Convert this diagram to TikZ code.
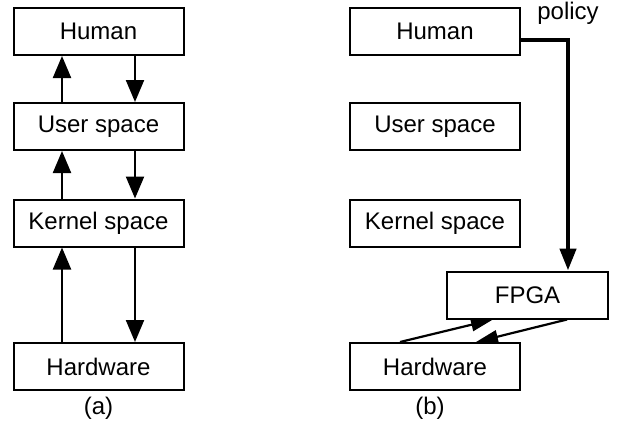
\documentclass[tikz,border=0pt]{standalone}
\usepackage{fontspec}
\setmainfont{Liberation Sans}
\usetikzlibrary{arrows.meta}

\begin{document}
\begin{tikzpicture}[
    x=0.5pt, y=-0.5pt,
    layer/.style={rectangle, draw=black, line width=1pt, minimum width=85pt, minimum height=23.5pt, inner sep=0pt, font=\fontsize{12}{14}\selectfont},
    arr/.style={-{Triangle[length=11pt, width=9pt]}, line width=1.1pt},
    thinarr/.style={-{Triangle[length=11pt, width=6.5pt]}, line width=1.1pt},
    policyarr/.style={-{Triangle[length=11pt, width=8pt]}, line width=2.2pt},
    caption/.style={font=\fontsize{12}{14}\selectfont}
]
    \useasboundingbox (0,0) rectangle (619,428);

    % --- (a): classic stack ---
    \node[layer] (HumA) at (98.5, 31.5) {Human};
    \node[layer] (UserA) at (98.5, 126.5) {User space};
    \node[layer] (KernA) at (98.5, 223) {Kernel space};
    \node[layer] (HwA) at (98.5, 366.5) {Hardware};
    \node[caption] (capA) at (98.5, 408) {(a)};

    \coordinate (upx) at (62, 0);
    \coordinate (dnx) at (135, 0);

    % Arrows up and down
    \foreach \lo/\hi in {UserA/HumA, KernA/UserA, HwA/KernA} {
        \draw[arr] (\lo.north -| upx) -- (\hi.south -| upx);
        \draw[arr] (\hi.south -| dnx) -- (\lo.north -| dnx);
    }

    % --- (b): with FPGA ---
    \node[layer] (HumB) at (435, 31.5) {Human};
    \node[layer] (UserB) at (435, 126.5) {User space};
    \node[layer] (KernB) at (435, 223) {Kernel space};
    \node[layer, minimum width=80.5pt] (Fpga) at (527.5, 295) {FPGA};
    \node[layer] (HwB) at (435, 366.5) {Hardware};
    \node[caption] (capB) at (430, 408) {(b)};
    \node[caption] (pol) at (568, 13) {policy};

    \coordinate (polx) at (568, 0);
    \coordinate (hwout) at (400, 0);
    \coordinate (hwin) at (476, 0);
    \coordinate (fpout) at (567, 0);
    \coordinate (fpin) at (493, 0);

    % Policy path
    \draw[policyarr] (HumB.east |- 0,40) -| (Fpga.north -| polx);

    % Hardware <-> FPGA
    \draw[thinarr] (HwB.north -| hwout) -- (Fpga.south -| fpin);
    \draw[thinarr] (Fpga.south -| fpout) -- (HwB.north -| hwin);
\end{tikzpicture}
\end{document}
